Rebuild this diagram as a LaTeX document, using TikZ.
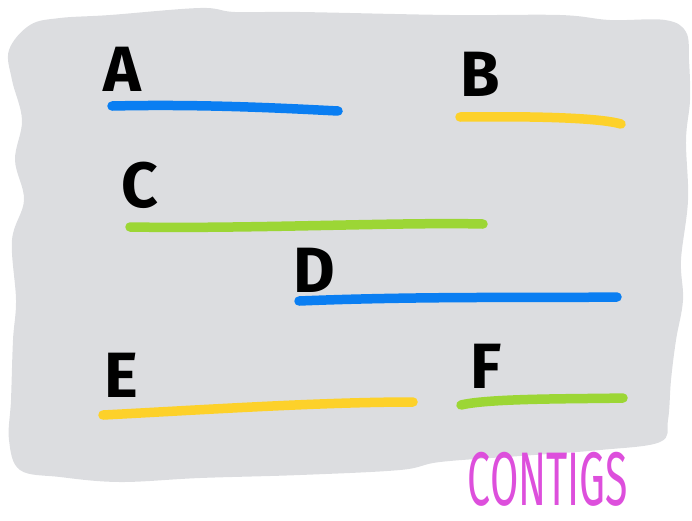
\documentclass[tikz,border=0pt]{standalone}
\usepackage{fontspec}
\setsansfont{Fira Sans}
\usepackage{graphicx}

\definecolor{blob}{HTML}{DCDDE0}
\definecolor{cblue}{HTML}{0A7EF2}
\definecolor{cyellow}{HTML}{FDD12A}
\definecolor{cgreen}{HTML}{9CD635}
\definecolor{cpink}{HTML}{DD4FDC}

\begin{document}
\begin{tikzpicture}[x=1pt,y=-1pt,line cap=round,
  lab/.style={font=\sffamily\bfseries\fontsize{64}{64}\selectfont,inner sep=0pt},
  contig/.style={line width=9.5pt}]
\useasboundingbox (0,0) rectangle (692,520);
% grauer Hintergrund, grob umrandet
\fill[blob] plot[smooth cycle,tension=0.6] coordinates {
  (30,25) (60,18) (110,15) (200,8) (235,12) (300,12) (450,15) (560,15)
  (610,20) (665,20) (686,32) (689,60) (690,100) (686,140) (688,200)
  (681,260) (683,300) (676,340) (671,380) (668,420) (660,442)
  (600,450) (520,456) (440,462) (400,470) (300,475) (200,478) (120,482)
  (60,477) (20,470) (9,440) (11,400) (13,340) (16,300) (12,240) (24,200)
  (15,160) (22,120) (12,80) (9,50)};
% ---------- Buchstaben ----------
\node[lab] (A) at (122,69) {A};
\node[lab] (B) at (480,74) {B};
\node[lab] (C) at (140,185) {C};
\node[lab] (D) at (314,270) {D};
\node[lab] (E) at (121,375) {E};
\node[lab] (F) at (486,366) {F};
% ---------- Contigs ----------
\draw[contig,cblue]   (112,106) .. controls (200,104) and (280,108) .. (338,111);
\draw[contig,cyellow] (460,117) .. controls (540,116) and (600,118) .. (621,124);
\draw[contig,cgreen]  (130,227) .. controls (250,229) and (400,222) .. (483,224);
\draw[contig,cblue]   (299,301) .. controls (420,296) and (540,298) .. (617,297);
\draw[contig,cyellow] (103,415) .. controls (200,410) and (320,402) .. (413,402);
\draw[contig,cgreen]  (461,405) .. controls (490,398) and (580,399) .. (623,398);
% ---------- Beschriftung ----------
\node[inner sep=0pt,text=cpink] (title) at (548,479)
  {\scalebox{0.54}[1]{\sffamily\fontsize{76}{76}\selectfont CONTIGS}};
\end{tikzpicture}
\end{document}
